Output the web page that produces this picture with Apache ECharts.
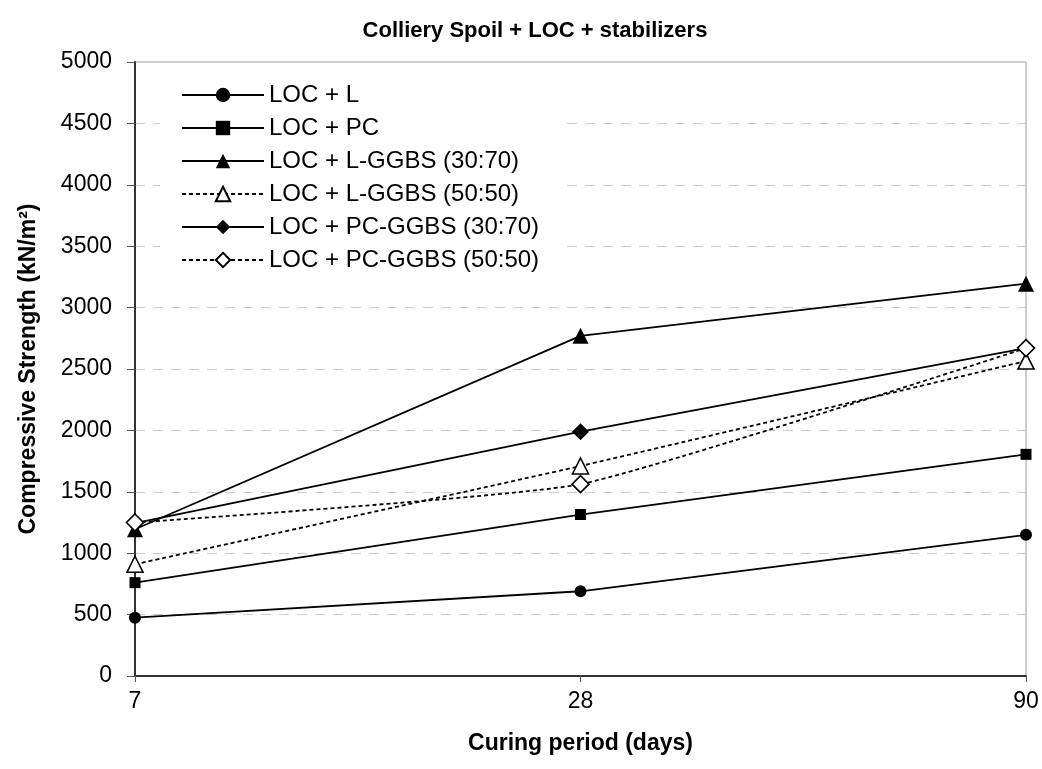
<!DOCTYPE html>
<html>
<head>
<meta charset="utf-8">
<script src="https://cdn.jsdelivr.net/npm/echarts@6/dist/echarts.min.js"></script>
<style>html,body{margin:0;padding:0;background:#fff}#c{width:1042px;height:769px}</style>
</head>
<body>
<div id="c"></div>
<script>
var categories = ['7', '28', '90'];
var locL = [475, 690, 1150];
var locPC = [760, 1315, 1805];
var locLGGBS3070 = [1195, 2770, 3195];
var locLGGBS5050 = [910, 1710, 2565];
var locPCGGBS3070 = [1245, 1990, 2670];
var locPCGGBS5050 = [1250, 1562, 2670];
var yTicks = [0, 500, 1000, 1500, 2000, 2500, 3000, 3500, 4000, 4500, 5000];

var FONT = "'Liberation Sans', Arial, sans-serif";
function mk(name, data, symbol, size, hollow, dashed, z) {
  return {
    name: name, type: 'line', data: data,
    symbol: symbol, symbolSize: size, showSymbol: true,
    smooth: dashed ? 0.15 : false,
    lineStyle: { color: '#000', width: 1.8, type: dashed ? [4, 3] : 'solid' },
    itemStyle: hollow ? { color: '#fff', borderColor: '#000', borderWidth: 1.6 } : { color: '#000', borderColor: '#000', borderWidth: 0 },
    z: z, animation: false, emphasis: { disabled: true }
  };
}
var chart = echarts.init(document.getElementById('c'), null, { renderer: 'canvas' });
chart.setOption({
  backgroundColor: '#fff',
  animation: false,
  title: {
    text: 'Colliery Spoil + LOC + stabilizers',
    left: 530, textAlign: 'center', top: 15,
    textStyle: { fontFamily: FONT, fontSize: 22, fontWeight: 'bold', color: '#000' }
  },
  grid: { left: 135, right: 16, top: 62, bottom: 93, show: true, borderColor: '#999', borderWidth: 1, backgroundColor: 'transparent' },
  legend: {
    orient: 'vertical', left: 160, top: 78,
    backgroundColor: '#fff', padding: [5, 25, 8, 21],
    itemWidth: 82, itemHeight: 18, itemGap: 9,
    textStyle: { fontFamily: FONT, fontSize: 24, lineHeight: 24, color: '#000' },
    data: ['LOC + L', 'LOC + PC', 'LOC + L-GGBS (30:70)', 'LOC + L-GGBS (50:50)', 'LOC + PC-GGBS (30:70)', 'LOC + PC-GGBS (50:50)']
  },
  xAxis: {
    type: 'category', data: categories, boundaryGap: false,
    name: 'Curing period (days)', nameLocation: 'middle', nameGap: 56,
    nameTextStyle: { fontFamily: FONT, fontSize: 23, fontWeight: 'bold', color: '#000' },
    axisLine: { lineStyle: { color: '#333', width: 2 } },
    axisTick: { show: true, length: 6, lineStyle: { color: '#555' } },
    axisLabel: { fontFamily: FONT, fontSize: 23, color: '#000', margin: 14 },
    splitLine: { show: false }
  },
  yAxis: {
    type: 'value', min: yTicks[0], max: yTicks[yTicks.length - 1], interval: 500,
    name: 'Compressive Strength (kN/m²)', nameLocation: 'middle', nameGap: 95, nameRotate: 90,
    nameTextStyle: { fontFamily: FONT, fontSize: 23, fontWeight: 'bold', color: '#000' },
    axisLine: { show: true, lineStyle: { color: '#333', width: 2 } },
    axisTick: { show: true, length: 8, lineStyle: { color: '#555' } },
    axisLabel: { fontFamily: FONT, fontSize: 23, color: '#000', margin: 23, formatter: function (v) { return String(v); } },
    splitLine: { show: true, lineStyle: { color: '#ccc', type: [10, 8], width: 1 } }
  },
  series: [
    mk('LOC + L', locL, 'circle', 12, false, false, 3),
    mk('LOC + PC', locPC, 'rect', 11, false, false, 3),
    mk('LOC + L-GGBS (30:70)', locLGGBS3070, 'triangle', 16, false, false, 3),
    mk('LOC + L-GGBS (50:50)', locLGGBS5050, 'triangle', 16, true, true, 4),
    mk('LOC + PC-GGBS (30:70)', locPCGGBS3070, 'diamond', 17, false, false, 3),
    mk('LOC + PC-GGBS (50:50)', locPCGGBS5050, 'diamond', 17, true, true, 5)
  ]
});
</script>
</body>
</html>
